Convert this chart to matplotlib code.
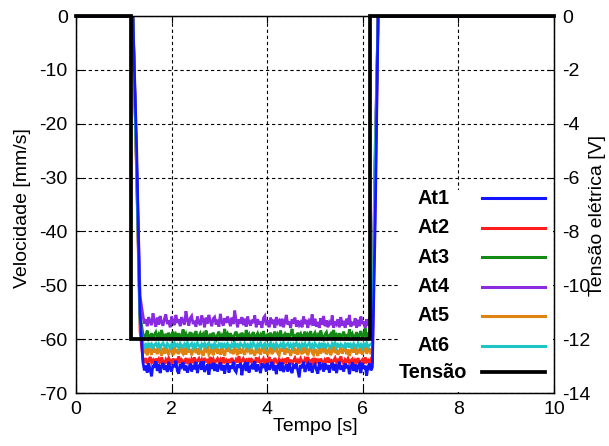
import numpy as np
import matplotlib
matplotlib.use("Agg")
import matplotlib.pyplot as plt
from matplotlib.patches import Rectangle
from matplotlib.lines import Line2D

plt.rcParams['font.family'] = ['Liberation Sans', 'DejaVu Sans']
plt.rcParams['axes.unicode_minus'] = False

# ---- data -------------------------------------------------------------
# sample times: drop, steady run (every 0.03 s), rise/end
t_start = [0.0, 1.19, 1.27, 1.34]
t_steady = list(np.round(1.40 + 0.03 * np.arange(160), 2))
t_end = [6.20, 6.26, 6.32, 10.0]
tempo = np.array(t_start + t_steady + t_end)

at1_start = [0.0, 0.0, -25.0, -55.0]
at1_steady = [
    -64.3, -65.8, -64.9, -66.2, -64.5, -65.6, -66.9, -64.8, -65.3, -64.1,
    -65.9, -64.6, -66.3, -65.0, -64.4, -65.7, -64.9, -66.1, -64.2, -65.5,
    -66.0, -64.7, -65.2, -64.0, -65.9, -66.4, -64.6, -65.1, -64.3, -65.8,
    -64.9, -66.2, -65.4, -64.5, -66.0, -64.8, -65.6, -64.2, -66.3, -65.0,
    -64.6, -65.7, -64.1, -66.1, -65.3, -64.7, -66.6, -64.9, -65.2, -64.4,
    -65.9, -64.6, -66.0, -65.1, -64.3, -65.8, -64.8, -66.4, -65.0, -64.5,
    -66.2, -64.9, -65.5, -64.2, -65.7, -66.1, -64.7, -65.3, -64.4, -66.7,
    -65.0, -64.6, -65.9, -64.3, -66.2, -65.2, -64.8, -65.6, -64.1, -66.0,
    -64.7, -65.4, -66.3, -64.5, -65.1, -64.9, -66.0, -64.4, -65.7, -65.2,
    -64.2, -65.8, -64.8, -66.5, -65.0, -64.6, -65.9, -64.3, -66.1, -65.3,
    -64.7, -66.0, -64.4, -65.6, -66.3, -64.9, -65.2, -64.5, -65.8, -67.1,
    -64.8, -65.4, -64.2, -66.1, -65.0, -64.6, -65.9, -64.4, -66.2, -65.1,
    -64.7, -65.7, -66.4, -64.3, -65.3, -64.9, -66.0, -64.5, -65.6, -64.8,
    -66.2, -65.0, -64.4, -65.8, -64.6, -66.3, -65.1, -64.2, -65.7, -64.9,
    -66.0, -64.5, -65.4, -64.8, -66.5, -65.2, -64.3, -65.9, -64.7, -66.1,
    -65.0, -64.6, -66.3, -64.4, -65.5, -64.9, -66.8, -65.1, -64.5, -65.8]
at1_end = [-65.2, -38.0, 0.0, 0.0]

at2_start = [0.0, 0.0, -30.5, -58.5]
at2_steady = [
    -63.8, -64.4, -63.5, -64.6, -64.0, -63.3, -64.3, -63.9, -64.7, -63.6,
    -64.2, -63.7, -64.5, -63.4, -64.1, -64.6, -63.8, -64.3, -63.5, -64.0,
    -64.7, -63.6, -64.2, -63.9, -64.5, -63.2, -64.4, -63.8, -64.1, -64.6,
    -63.5, -64.3, -63.9, -64.7, -63.7, -64.2, -63.4, -64.5, -64.0, -63.6,
    -64.4, -63.8, -64.6, -63.5, -64.1, -63.9, -64.7, -63.3, -64.2, -63.7,
    -64.5, -64.0, -63.6, -64.3, -63.8, -64.6, -63.4, -64.2, -63.9, -64.7,
    -63.7, -64.4, -63.5, -64.1, -64.6, -63.8, -64.3, -63.2, -64.5, -64.0,
    -63.6, -64.2, -63.9, -64.7, -63.5, -64.4, -63.8, -64.1, -64.6, -63.4,
    -64.3, -63.7, -64.5, -64.0, -63.6, -64.6, -63.9, -64.2, -63.3, -64.4,
    -63.8, -64.7, -63.5, -64.1, -64.5, -63.7, -64.3, -63.9, -64.6, -63.6,
    -64.2, -63.4, -64.4, -63.8, -64.7, -64.0, -63.5, -64.3, -63.9, -64.5,
    -63.6, -64.1, -64.6, -63.7, -64.2, -63.3, -64.4, -64.0, -63.8, -64.7,
    -63.5, -64.3, -63.9, -64.5, -63.6, -64.2, -64.7, -63.8, -64.1, -63.4,
    -64.4, -63.7, -64.6, -64.0, -63.5, -64.3, -63.9, -64.5, -63.2, -64.1,
    -64.6, -63.8, -64.2, -63.6, -64.4, -64.0, -63.7, -64.7, -63.9, -64.3,
    -63.5, -64.5, -64.1, -63.8, -64.6, -63.4, -64.2, -63.9, -64.4, -63.7]
at2_end = [-64.0, -33.0, 0.0, 0.0]

at3_start = [0.0, 0.0, -29.0, -55.5]
at3_steady = [
    -59.0, -59.8, -59.3, -58.4, -59.9, -59.5, -58.9, -60.1, -59.2, -58.7,
    -59.7, -59.1, -59.9, -58.3, -59.4, -60.0, -59.0, -59.6, -58.8, -59.8,
    -59.3, -58.6, -59.9, -59.1, -59.7, -58.9, -60.1, -59.4, -58.2, -59.6,
    -59.0, -59.8, -59.3, -58.7, -59.9, -59.2, -59.6, -58.5, -60.0, -59.4,
    -58.9, -59.7, -59.1, -59.9, -58.4, -59.5, -60.1, -59.0, -59.7, -58.8,
    -59.4, -60.0, -59.2, -58.6, -59.8, -59.3, -59.9, -58.1, -59.6, -59.0,
    -59.8, -58.9, -59.5, -60.0, -59.1, -58.6, -59.7, -59.3, -59.9, -58.8,
    -59.4, -59.9, -58.3, -59.6, -59.1, -60.1, -59.2, -58.7, -59.8, -59.4,
    -58.9, -59.7, -59.2, -60.0, -58.5, -59.5, -59.9, -59.0, -59.6, -58.8,
    -59.8, -59.3, -58.6, -59.9, -59.1, -59.7, -58.4, -60.0, -59.4, -59.0,
    -59.6, -58.9, -59.9, -59.2, -58.1, -59.7, -59.4, -60.1, -58.8, -59.5,
    -59.0, -59.8, -59.3, -58.6, -59.9, -59.1, -59.6, -58.5, -60.0, -59.3,
    -58.8, -59.7, -59.2, -59.9, -58.4, -59.5, -60.0, -59.1, -58.7, -59.8,
    -59.4, -59.0, -59.9, -58.3, -59.6, -59.2, -60.1, -58.9, -59.7, -59.3,
    -58.6, -59.8, -59.1, -59.9, -58.2, -59.5, -59.0, -60.0, -59.4, -58.7,
    -59.8, -59.2, -58.5, -59.9, -59.3, -58.0, -59.6, -59.1, -60.0, -59.4]
at3_end = [-59.3, -27.0, 0.0, 0.0]

at4_start = [0.0, 0.0, -28.0, -52.0]
at4_steady = [
    -55.6, -57.1, -56.3, -57.6, -55.9, -56.8, -57.4, -55.2, -56.6, -57.7,
    -56.0, -57.3, -55.7, -56.9, -57.5, -56.2, -55.4, -57.2, -56.5, -57.8,
    -55.8, -56.7, -57.4, -55.5, -57.0, -56.3, -57.6, -55.9, -56.8, -57.3,
    -54.8, -56.4, -57.5, -56.1, -55.7, -57.2, -56.6, -57.7, -55.8, -56.9,
    -57.4, -55.6, -56.5, -57.8, -56.0, -57.1, -55.5, -56.7, -57.6, -56.2,
    -55.9, -57.3, -56.4, -57.7, -55.3, -56.8, -57.5, -56.1, -57.0, -55.8,
    -56.6, -57.6, -56.0, -57.2, -54.7, -56.5, -57.8, -56.3, -57.1, -55.9,
    -57.4, -56.2, -57.7, -55.8, -56.9, -57.5, -56.4, -57.0, -55.6, -57.8,
    -56.3, -57.3, -56.7, -57.9, -56.1, -55.7, -57.4, -56.5, -57.8, -56.0,
    -57.2, -56.4, -57.9, -55.9, -57.0, -56.6, -57.6, -56.2, -57.8, -56.8,
    -55.5, -57.3, -56.7, -57.9, -56.3, -57.1, -56.0, -57.7, -56.5, -57.4,
    -56.9, -57.8, -55.8, -57.2, -56.4, -57.9, -56.6, -57.0, -55.4, -57.5,
    -56.2, -57.7, -56.8, -57.9, -56.1, -57.3, -55.7, -57.6, -56.5, -57.8,
    -56.9, -57.4, -55.6, -57.9, -56.7, -57.2, -56.3, -57.8, -55.9, -57.5,
    -56.6, -57.9, -56.2, -57.3, -55.5, -57.7, -56.8, -57.4, -56.1, -57.9,
    -56.4, -57.6, -55.8, -57.2, -56.7, -57.9, -56.3, -57.5, -55.9, -57.7]
at4_end = [-57.2, -24.0, 0.0, 0.0]

at5_start = [0.0, 0.0, -29.5, -56.5]
at5_steady = [
    -61.2, -62.6, -61.7, -63.0, -61.4, -62.3, -62.9, -61.0, -62.5, -61.8,
    -62.8, -61.3, -62.2, -63.1, -61.6, -62.7, -61.1, -62.4, -62.9, -61.5,
    -62.1, -63.0, -61.4, -62.6, -61.9, -62.8, -60.9, -62.3, -62.7, -61.6,
    -62.9, -61.2, -62.5, -61.8, -63.0, -62.0, -61.3, -62.6, -61.7, -62.9,
    -61.5, -62.4, -63.1, -61.9, -62.2, -61.1, -62.8, -62.4, -61.6, -63.0,
    -62.0, -61.4, -62.7, -61.8, -62.9, -61.2, -62.5, -63.1, -61.7, -62.3,
    -61.0, -62.6, -61.9, -62.8, -61.5, -62.2, -63.0, -61.3, -62.7, -61.8,
    -62.4, -62.9, -61.6, -62.1, -61.2, -62.8, -61.9, -62.5, -63.1, -61.4,
    -62.6, -61.7, -62.9, -62.0, -61.3, -62.7, -61.8, -63.0, -62.2, -61.5,
    -62.8, -61.9, -62.4, -61.1, -62.6, -63.0, -61.7, -62.3, -61.4, -62.9,
    -61.6, -62.5, -61.9, -63.1, -62.1, -61.3, -62.7, -61.8, -62.9, -61.5,
    -62.3, -62.8, -61.2, -62.6, -61.7, -63.0, -62.0, -61.4, -62.5, -62.9,
    -61.8, -62.4, -63.1, -61.5, -62.7, -61.9, -62.2, -61.0, -62.8, -62.4,
    -61.6, -63.0, -62.1, -61.3, -62.6, -61.8, -62.9, -62.3, -61.5, -62.7,
    -62.0, -61.4, -62.8, -61.9, -63.1, -62.2, -61.6, -62.5, -61.2, -62.9,
    -61.8, -62.6, -61.5, -62.9, -62.0, -61.3, -62.7, -62.2, -61.7, -62.8]
at5_end = [-62.2, -28.0, 0.0, 0.0]

at6_start = [0.0, 0.0, -29.5, -57.0]
at6_steady = [
    -60.8, -61.4, -61.0, -61.6, -60.7, -61.3, -60.9, -61.5, -61.1, -60.8,
    -61.4, -60.9, -61.6, -61.0, -60.7, -61.3, -61.5, -60.8, -61.2, -61.6,
    -60.9, -61.4, -60.7, -61.3, -61.0, -61.6, -60.8, -61.2, -61.5, -60.9,
    -61.3, -60.7, -61.5, -61.1, -60.8, -61.6, -61.0, -61.4, -60.7, -61.2,
    -61.6, -60.9, -61.3, -60.8, -61.5, -61.0, -60.7, -61.4, -61.1, -61.6,
    -60.8, -61.2, -61.5, -60.9, -61.3, -60.7, -61.6, -61.0, -61.4, -60.8,
    -61.2, -61.6, -60.9, -61.4, -60.7, -61.3, -61.0, -61.5, -60.8, -61.1,
    -61.5, -60.8, -61.3, -61.0, -61.6, -60.9, -61.4, -60.7, -61.2, -61.6,
    -60.9, -61.3, -60.7, -61.5, -61.1, -60.8, -61.6, -61.0, -61.3, -60.7,
    -61.4, -61.0, -61.6, -60.8, -61.2, -61.5, -60.9, -61.3, -60.7, -61.4,
    -61.1, -60.8, -61.5, -61.0, -61.6, -60.9, -61.2, -60.7, -61.4, -61.0,
    -61.6, -60.9, -61.3, -60.8, -61.5, -61.1, -60.7, -61.4, -61.0, -61.6,
    -60.8, -61.2, -61.5, -60.9, -61.3, -60.7, -61.6, -61.0, -61.4, -60.9,
    -61.3, -61.6, -60.8, -61.1, -60.7, -61.5, -61.0, -61.4, -60.9, -61.2,
    -61.5, -60.9, -61.3, -60.7, -61.6, -61.0, -61.4, -60.8, -61.2, -61.5,
    -60.8, -61.4, -61.0, -61.6, -60.9, -61.3, -60.7, -61.5, -61.1, -60.9]
at6_end = [-61.1, -26.0, 0.0, 0.0]

# applied voltage step
t_tensao = [0.0, 1.16, 1.16, 6.15, 6.15, 10.0]
v_tensao = [0.0, 0.0, -12.0, -12.0, 0.0, 0.0]

series_names = ["At1", "At2", "At3", "At4", "At5", "At6"]
series_colors = ["#1414ff", "#ff1e1e", "#138a13", "#8a2be2", "#e0820f", "#1fc4c4"]
velocidades = [
    at1_start + at1_steady + at1_end,
    at2_start + at2_steady + at2_end,
    at3_start + at3_steady + at3_end,
    at4_start + at4_steady + at4_end,
    at5_start + at5_steady + at5_end,
    at6_start + at6_steady + at6_end,
]
# At1 is stacked above the other sensors
series_z = [2.5, 2, 2, 2, 2, 2]

x_ticks = [0, 2, 4, 6, 8, 10]
vel_ticks = [0, -10, -20, -30, -40, -50, -60, -70]
ten_ticks = [0, -2, -4, -6, -8, -10, -12, -14]

# ---- figure -----------------------------------------------------------
fig = plt.figure(figsize=(6.09, 4.46), dpi=100)
ax1 = fig.add_subplot(111)
fig.subplots_adjust(left=0.1248, right=0.9097, bottom=0.1188, top=0.9641)
ax2 = ax1.twinx()

for vals, c, z in zip(velocidades, series_colors, series_z):
    ax1.plot(tempo, vals, color=c, lw=2.0, solid_joinstyle='miter', zorder=z)

ax2.plot(t_tensao, v_tensao, color='black', lw=2.7, solid_joinstyle='miter',
         clip_on=False)

ax1.set_xlim(0, 10)
ax1.set_ylim(-70, 0)
ax2.set_ylim(-14, 0)
ax1.set_xticks(x_ticks)
ax1.set_yticks(vel_ticks)
ax2.set_yticks(ten_ticks)

fs = 14
ax1.tick_params(axis='both', direction='in', length=5, width=0.8,
                labelsize=fs, top=True, pad=6)
ax2.tick_params(axis='y', direction='in', length=5, width=0.8,
                labelsize=fs, pad=6)

ax1.grid(True, color='black', lw=0.8, linestyle=(0, (3, 2.5)))
ax1.set_axisbelow(True)
for ax in (ax1, ax2):
    for s in ax.spines.values():
        s.set_linewidth(0.9)

ax1.set_xlabel("Tempo [s]", fontsize=14, labelpad=0)
ax1.set_ylabel("Velocidade [mm/s]", fontsize=14)
ax2.set_ylabel("Tensão elétrica [V]", fontsize=14)
ax1.yaxis.set_label_coords(-0.094, 0.49)
ax2.yaxis.set_label_coords(1.074, 0.47)

# key in the lower right corner
ax2.add_patch(Rectangle((0.674, 0.002), 0.324, 0.536, transform=ax2.transAxes,
                        facecolor='white', edgecolor='none', zorder=3))
key_y = [0.516, 0.438, 0.360, 0.282, 0.205, 0.125, 0.055]
key_names = series_names + ["Tensão"]
key_colors = series_colors + ["black"]
key_lw = [2.2] * 6 + [2.7]
for y, name, c, lw in zip(key_y, key_names, key_colors, key_lw):
    ax2.text(0.747, y, name, transform=ax2.transAxes, ha='center',
             va='center', fontsize=14.3, fontweight='bold', zorder=4)
    ax2.add_line(Line2D([0.849, 0.981], [y, y], transform=ax2.transAxes,
                        color=c, lw=lw, zorder=4))

fig.savefig("out.png", dpi=100)
